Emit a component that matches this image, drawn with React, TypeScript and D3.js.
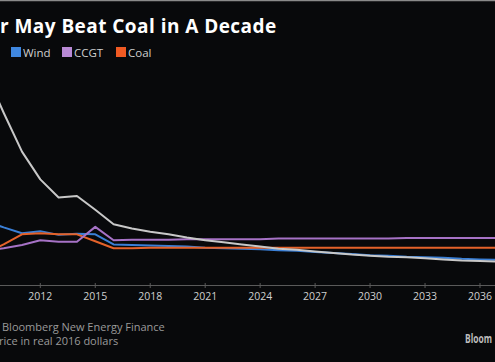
import React from "react";
import * as d3 from "d3";

const years = d3.range(2009, 2041);
// Levelized cost, $/MWh (real 2016 dollars)
const solar = [400, 323, 250, 198, 164, 167, 141, 114, 106, 100, 95, 89, 84, 80, 76, 72, 68, 66, 63, 60, 57, 55, 53, 52, 50, 48, 46, 45, 44, 43, 42, 41];
const wind = [120, 108, 97, 101, 94, 96, 95, 76, 75, 74, 73, 72, 70, 69, 68, 67, 65, 64, 62, 60, 58, 56, 55, 53, 52, 51, 49, 48, 47, 46, 45, 44];
const ccgt = [64, 69, 75, 84, 81, 81, 109, 84, 85, 85, 85, 86, 86, 86, 86, 86, 87, 87, 87, 87, 87, 87, 87, 88, 88, 88, 88, 88, 88, 88, 88, 88];
const coal = [60, 76, 95, 97, 95, 95, 82, 69, 69, 70, 70, 70, 70, 70, 70, 70, 70, 70, 70, 70, 70, 70, 70, 70, 70, 70, 70, 70, 70, 70, 70, 70];
const tickYears = [2012, 2015, 2018, 2021, 2024, 2027, 2030, 2033, 2036];

const seriesNames = ["Solar", "Wind", "CCGT", "Coal"];
const seriesValues = [solar, wind, ccgt, coal];
const lineColors = ["#c8c8c8", "#3a7fd6", "#a672c6", "#e4622a"];
const legendColors = ["#e0e0e0", "#3f87e0", "#b98ad6", "#f05a23"];

export default function App() {
  const W = 495, H = 362;
  const x = d3.scaleLinear().domain([2012, 2036]).range([40.3, 480]);
  const y = d3.scaleLinear().domain([0, 300]).range([285, 125]);
  const line = d3.line<number>().x((_, i) => x(years[i])).y((d) => y(d));
  const font = "'Open Sans', sans-serif";
  const legendX = [11, 62, 116];

  return (
    <svg width={W} height={H} style={{ position: "absolute", left: 0, top: 0, background: "#08090b" }}>
      <rect x={0} y={0} width={W} height={H} fill="#08090b" />
      <line x1={0} x2={W} y1={0.5} y2={0.5} stroke="#8a8a8a" strokeWidth={1.5} />
      <text x={0} y={33} fill="#ffffff" fontFamily={font} fontWeight={700} fontSize={19} letterSpacing={0.45}>
        r May Beat Coal in A Decade
      </text>
      {seriesNames.slice(1).map((n, i) => (
        <g key={n} transform={`translate(${legendX[i]},47)`}>
          <rect x={0} y={0} width={10} height={10} fill={legendColors[i + 1]} />
          <text x={12} y={9.5} fill="#cfcfcf" fontFamily={font} fontSize={11.5}>{n}</text>
        </g>
      ))}
      <line x1={0} x2={W} y1={285.5} y2={285.5} stroke="#5a5a5a" strokeWidth={1} />
      {tickYears.map((t) => (
        <g key={t}>
          <line x1={x(t)} x2={x(t)} y1={283} y2={288} stroke="#5a5a5a" />
          <text x={x(t)} y={300} textAnchor="middle" fill="#cfcfcf" fontFamily={font} fontSize={10.5}>{t}</text>
        </g>
      ))}
      <g fill="none" strokeWidth={2} strokeLinejoin="round">
        {[1, 3, 2, 0].map((k) => (
          <path key={k} d={line(seriesValues[k]) || ""} stroke={lineColors[k]} />
        ))}
      </g>
      <text x={2} y={331} fill="#9a9a9a" fontFamily={font} fontSize={11}>Bloomberg New Energy Finance</text>
      <text x={-1} y={344.5} fill="#9a9a9a" fontFamily={font} fontSize={11}>rice in real 2016 dollars</text>
      <text x={465} y={343} fill="#bdbdbd" fontFamily={font} fontWeight={700} fontSize={12} textLength={27} lengthAdjust="spacingAndGlyphs">Bloom</text>
    </svg>
  );
}
